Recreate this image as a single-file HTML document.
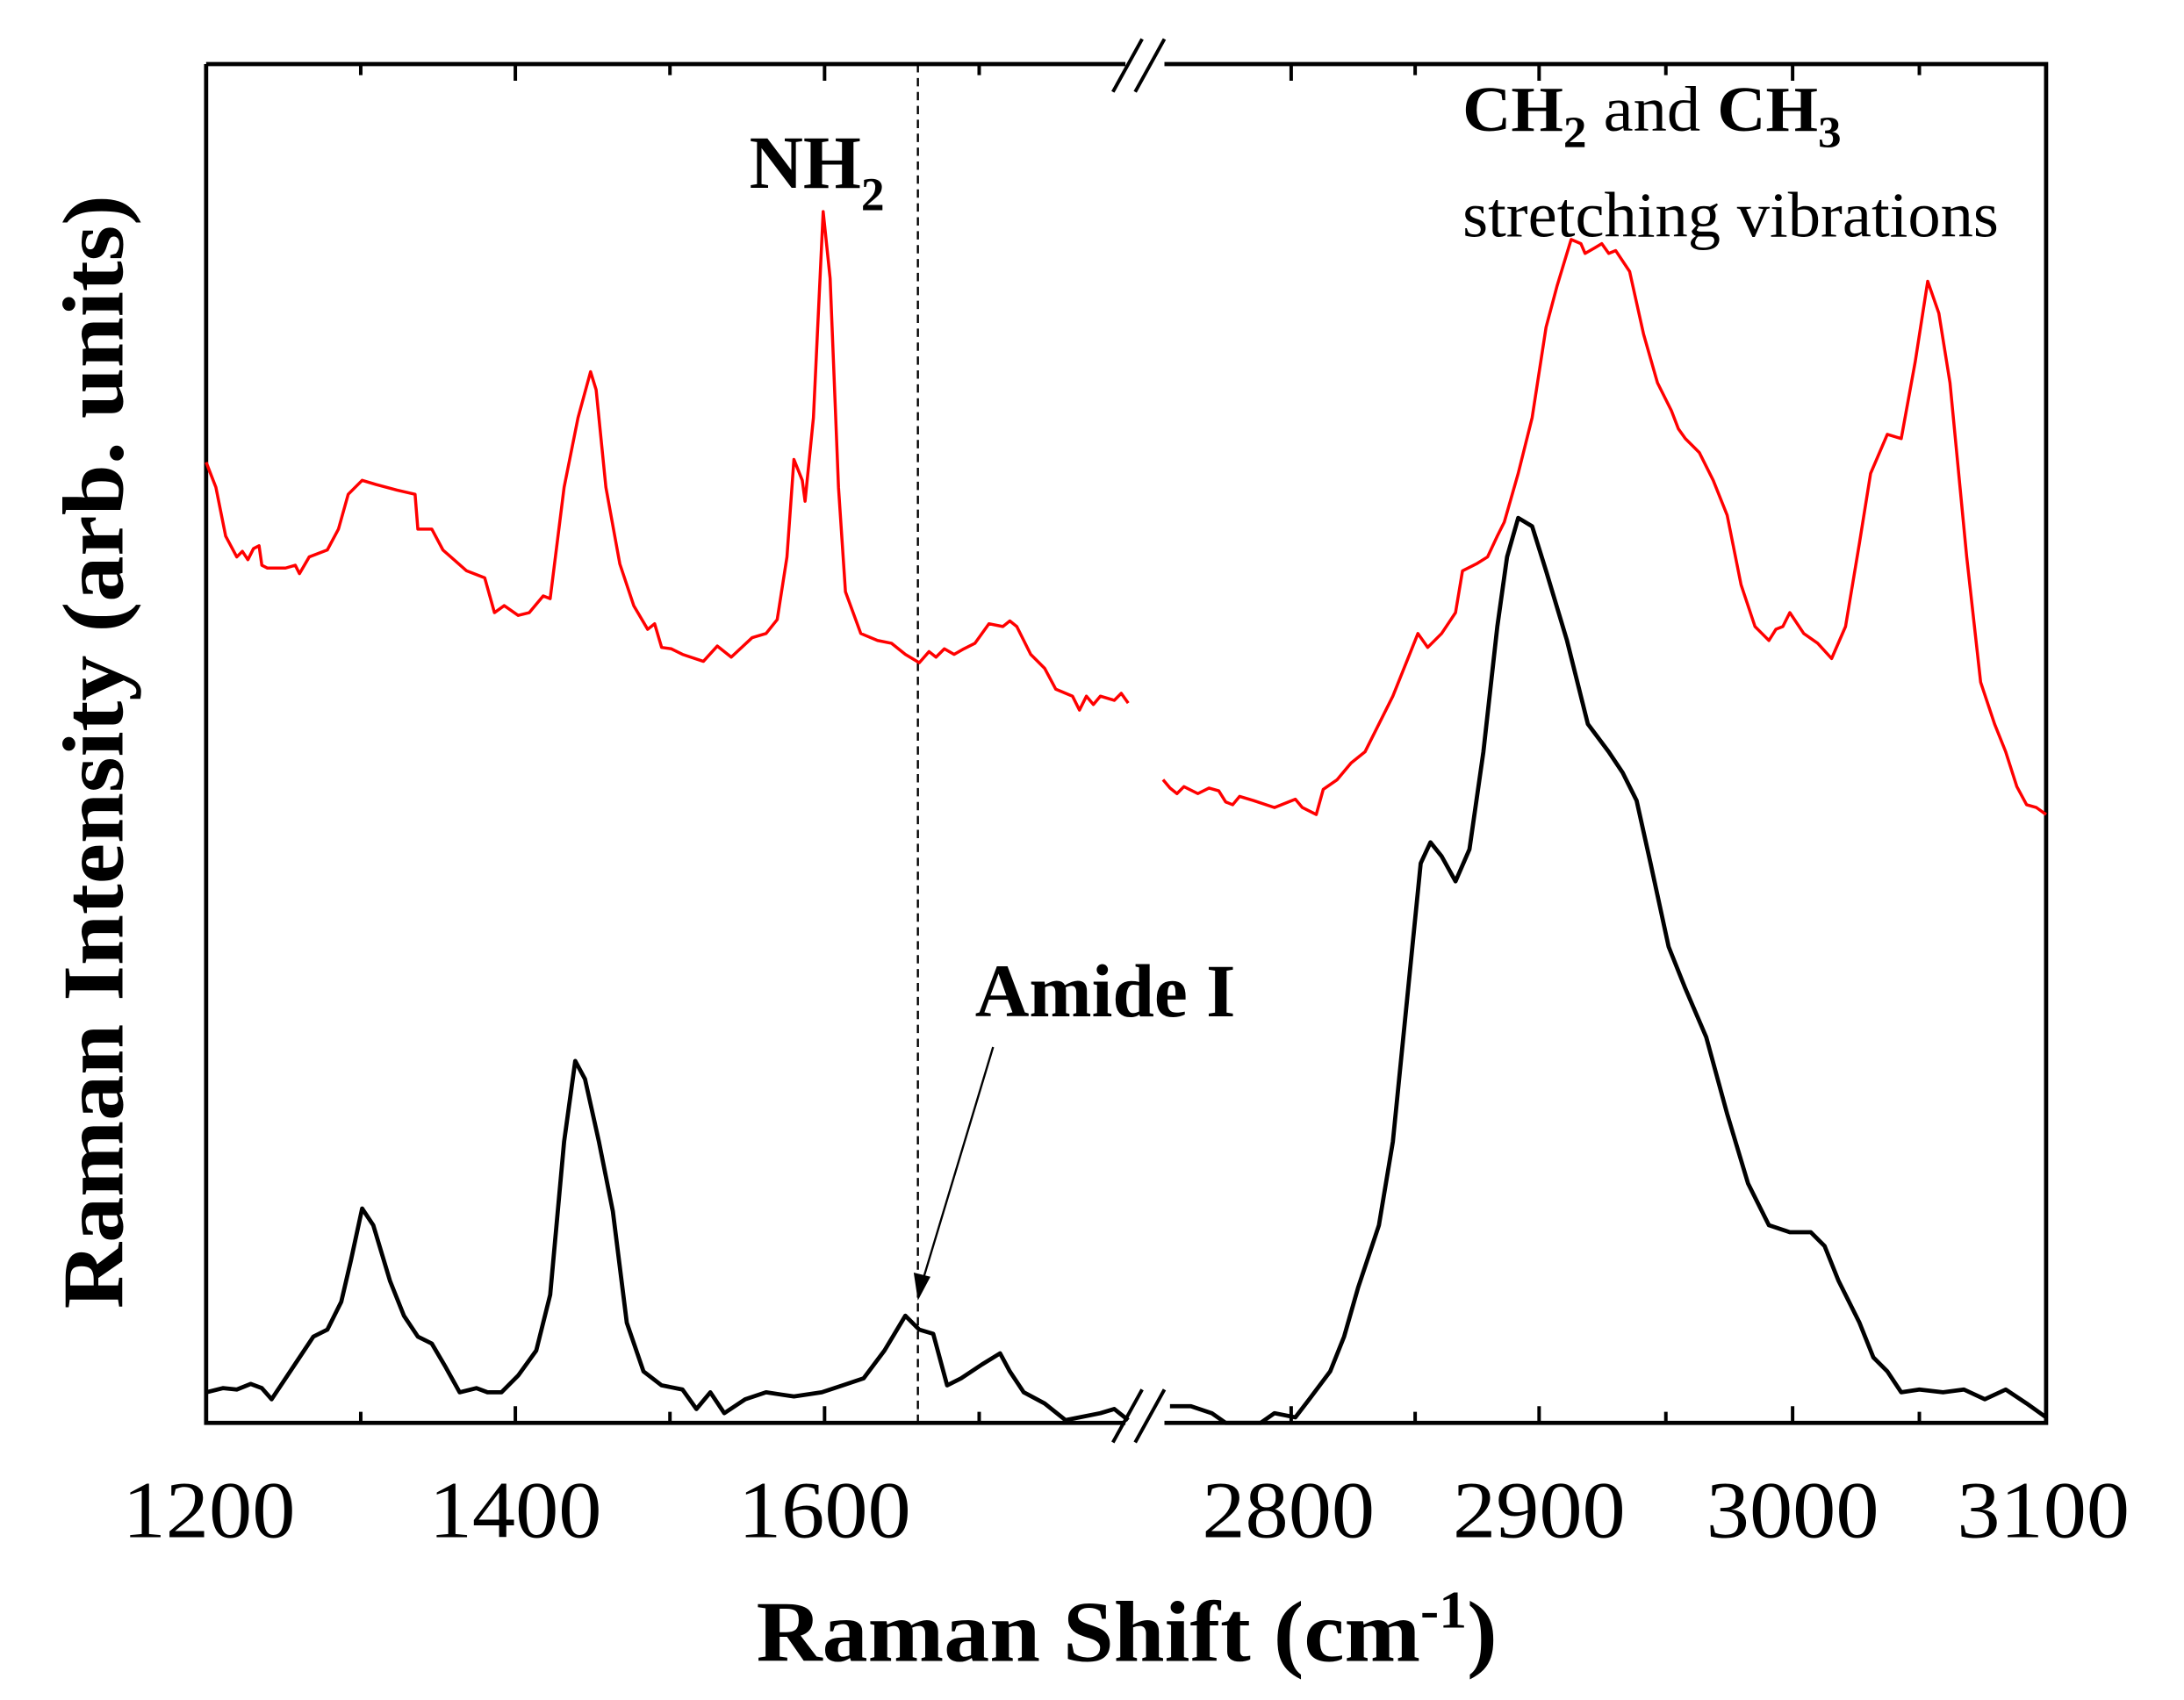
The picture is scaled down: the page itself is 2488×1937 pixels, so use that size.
<!DOCTYPE html>
<html><head><meta charset="utf-8"><style>html,body{margin:0;padding:0;background:#fff}svg{display:block}</style></head>
<body>
<svg width="2488" height="1937" viewBox="0 0 1568 1221" preserveAspectRatio="none" xmlns="http://www.w3.org/2000/svg" font-family="Liberation Serif, serif">
<rect width="1568" height="1221" fill="#fff"/>
<g stroke="#000" stroke-width="3" fill="none">
<path d="M148,46 H808 M836,46 H1469 V1022 H836 M808,1022 H148 V46"/>
</g>
<rect x="812" y="1016" width="16" height="12" fill="#fff"/>
<rect x="812" y="40" width="16" height="12" fill="#fff"/>
<g stroke="#000" stroke-width="2.5" fill="none">
<path d="M799,1036 L820,998 M815,1036 L836,998 M799,66 L820,28 M815,66 L836,28"/>
</g>
<g stroke="#000" stroke-width="2.5">
<path d="M148,1022v-12 M259,1022v-8 M370,1022v-12 M481,1022v-8 M592,1022v-12 M703,1022v-8 M927,1022v-12 M1016,1022v-8 M1105,1022v-12 M1196,1022v-8 M1287,1022v-12 M1378,1022v-8 M1469,1022v-12"/>
<path d="M148,46v12 M259,46v8 M370,46v12 M481,46v8 M592,46v12 M703,46v8 M927,46v12 M1016,46v8 M1105,46v12 M1196,46v8 M1287,46v12 M1378,46v8"/>
</g>
<g font-size="58" text-anchor="middle">
<text x="150" y="1104" textLength="124" lengthAdjust="spacingAndGlyphs">1200</text>
<text x="370" y="1104" textLength="124" lengthAdjust="spacingAndGlyphs">1400</text>
<text x="592" y="1104" textLength="124" lengthAdjust="spacingAndGlyphs">1600</text>
<text x="925" y="1104" textLength="124" lengthAdjust="spacingAndGlyphs">2800</text>
<text x="1105" y="1104" textLength="124" lengthAdjust="spacingAndGlyphs">2900</text>
<text x="1287" y="1104" textLength="124" lengthAdjust="spacingAndGlyphs">3000</text>
<text x="1467" y="1104" textLength="124" lengthAdjust="spacingAndGlyphs">3100</text>
</g>
<text x="543" y="1193" font-size="62" font-weight="bold" textLength="532" lengthAdjust="spacingAndGlyphs">Raman Shift (cm<tspan font-size="38" dy="-24">-1</tspan><tspan dy="24">)</tspan></text>
<text transform="translate(88,540) rotate(-90)" font-size="62" font-weight="bold" text-anchor="middle" textLength="800" lengthAdjust="spacingAndGlyphs">Raman Intensity (arb. units)</text>
<line x1="659" y1="46" x2="659" y2="1022" stroke="#000" stroke-width="1.5" stroke-dasharray="6,4"/>
<g fill="none" stroke="#f00" stroke-width="2.2" stroke-linejoin="round">
<polyline points="148,332 155,350 162,385 170,400 174,396 178,402 182,394 186,392 188,406 192,408 205,408 212,406 215,412 222,400 235,395 243,380 250,355 260,345 270,348 285,352 298,355 300,380 310,380 318,395 335,410 348,415 355,440 362,435 372,442 380,440 390,428 395,430 405,350 415,300 424,267 428,280 435,350 445,405 455,435 465,452 470,448 475,465 482,466 490,470 505,475 515,464 525,472 540,458 550,455 558,445 565,400 570,330 576,345 578,360 584,300 591,152 596,200 602,350 607,425 618,455 630,460 640,462 650,470 660,476 667,468 672,472 678,466 685,470 692,466 700,462 710,448 720,450 725,446 730,450 740,470 750,480 758,495 770,500 775,510 780,500 785,506 790,500 800,503 805,498 810,505"/>
<polyline points="835,560 840,566 845,570 850,565 860,570 868,566 875,568 880,576 885,578 890,572 900,575 915,580 930,574 935,580 945,585 950,567 960,560 970,548 980,540 990,520 1000,500 1010,475 1018,455 1025,465 1035,455 1045,440 1050,410 1060,405 1068,400 1075,385 1080,375 1090,340 1100,300 1110,235 1118,205 1128,172 1135,175 1138,182 1145,178 1150,175 1155,182 1160,180 1170,195 1180,240 1190,275 1200,295 1205,308 1210,315 1220,325 1230,345 1240,370 1250,420 1260,450 1265,455 1270,460 1275,452 1280,450 1285,440 1295,455 1305,462 1315,473 1325,450 1335,390 1343,340 1355,312 1365,315 1375,260 1384,202 1392,225 1400,275 1412,400 1422,490 1432,520 1440,540 1448,565 1455,578 1462,580 1469,585"/>
</g>
<g fill="none" stroke="#000" stroke-width="3" stroke-linejoin="round">
<polyline points="148,1000 160,997 170,998 180,994 188,997 195,1005 205,990 215,975 225,960 235,955 245,935 252,905 260,868 268,880 280,920 290,945 300,960 310,965 320,982 330,1000 342,997 350,1000 360,1000 372,988 385,970 395,930 405,820 413,762 420,775 430,820 440,870 450,950 462,985 475,995 490,998 500,1012 510,1000 520,1015 535,1005 550,1000 570,1003 590,1000 605,995 620,990 635,970 650,945 660,955 670,958 680,995 690,990 705,980 718,972 725,985 735,1000 750,1008 765,1020 790,1015 800,1012 810,1020"/>
<polyline points="840,1010 855,1010 870,1015 880,1022 905,1022 915,1015 930,1018 940,1005 955,985 965,960 975,925 990,880 1000,820 1010,720 1020,620 1027,605 1035,615 1045,633 1055,610 1065,540 1075,450 1082,400 1090,372 1100,378 1110,410 1125,460 1140,520 1155,540 1165,555 1175,575 1185,620 1198,680 1210,710 1225,745 1240,800 1255,850 1270,880 1285,885 1300,885 1310,895 1320,920 1335,950 1345,975 1355,985 1365,1000 1378,998 1395,1000 1410,998 1425,1005 1440,998 1455,1008 1469,1018"/>
</g>
<text x="538" y="135" font-size="54" font-weight="bold" textLength="97" lengthAdjust="spacingAndGlyphs">NH<tspan font-size="34" dy="16">2</tspan></text>
<text x="700" y="730" font-size="54" font-weight="bold" textLength="187" lengthAdjust="spacingAndGlyphs">Amide I</text>
<line x1="713" y1="752" x2="663" y2="918" stroke="#000" stroke-width="1.5"/>
<polygon points="659,934 656,914 668,917" fill="#000"/>
<text x="1050" y="94" font-size="46" textLength="272" lengthAdjust="spacingAndGlyphs"><tspan font-weight="bold">CH<tspan font-size="32" dy="12">2</tspan></tspan><tspan dy="-12"> and </tspan><tspan font-weight="bold">CH<tspan font-size="32" dy="12">3</tspan></tspan></text>
<text x="1050" y="170" font-size="46" textLength="385" lengthAdjust="spacingAndGlyphs">stretching vibrations</text>
</svg>
</body></html>
